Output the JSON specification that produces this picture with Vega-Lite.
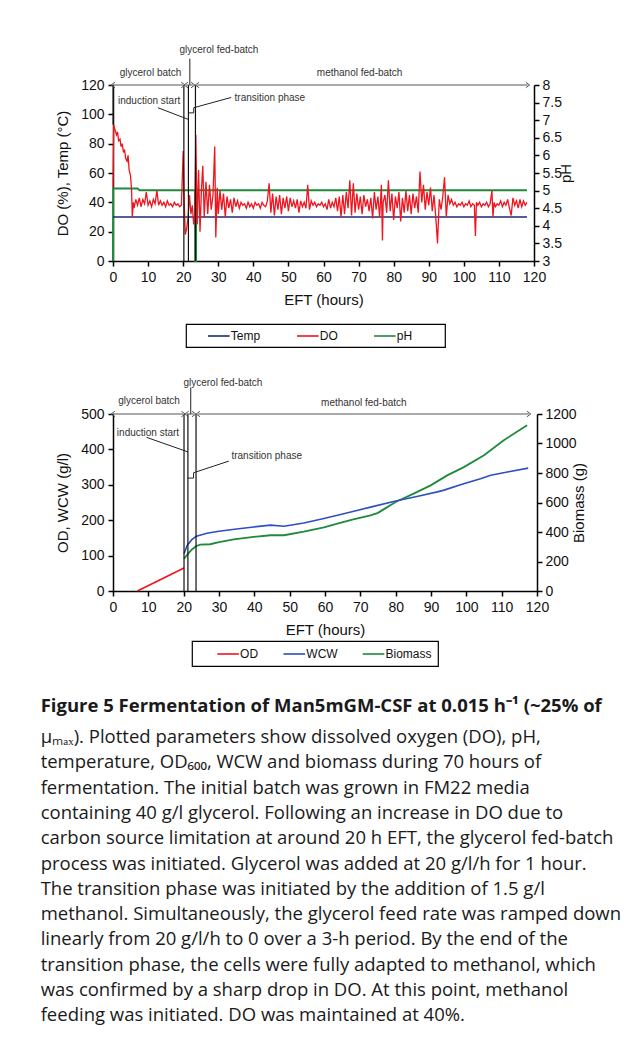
{
"$schema": "https://vega.github.io/schema/vega-lite/v6.json",
"padding": {"left": 40, "top": 45, "right": 5, "bottom": 8},
"background": "white",
"spacing": 29,
"resolve": {"scale": {"color": "independent"}},
"title": {
  "text": "Figure 5 Fermentation of Man5mGM-CSF at 0.015 h⁻¹ (~25% of",
  "subtitle": [
    "μₘₐₓ). Plotted parameters show dissolved oxygen (DO), pH,",
    "temperature, OD₆₀₀, WCW and biomass during 70 hours of",
    "fermentation. The initial batch was grown in FM22 media",
    "containing 40 g/l glycerol. Following an increase in DO due to",
    "carbon source limitation at around 20 h EFT, the glycerol fed-batch",
    "process was initiated. Glycerol was added at 20 g/l/h for 1 hour.",
    "The transition phase was initiated by the addition of 1.5 g/l",
    "methanol. Simultaneously, the glycerol feed rate was ramped down",
    "linearly from 20 g/l/h to 0 over a 3-h period. By the end of the",
    "transition phase, the cells were fully adapted to methanol, which",
    "was confirmed by a sharp drop in DO. At this point, methanol",
    "feeding was initiated. DO was maintained at 40%."
  ],
  "orient": "bottom",
  "anchor": "start",
  "frame": "bounds",
  "offset": 30,
  "dx": -15,
  "font": "Open Sans",
  "fontSize": 18.5,
  "fontWeight": "bold",
  "color": "#1a1a1a",
  "subtitleFont": "Open Sans",
  "subtitleFontSize": 18.5,
  "subtitleFontWeight": "normal",
  "subtitleColor": "#1a1a1a",
  "subtitleLineHeight": 25.3,
  "subtitlePadding": 13
},
"datasets": {
  "top_do": [
    {"t":0,"v":50},{"t":0.2,"v":93},{"t":0.5,"v":90},{"t":1,"v":86},{"t":1.3,"v":88},{"t":1.6,"v":82},{"t":2,"v":83},{"t":2.3,"v":78},{"t":2.6,"v":80},{"t":3,"v":74},{"t":3.3,"v":76},{"t":3.6,"v":70},{"t":4,"v":68},{"t":4.3,"v":72},{"t":4.6,"v":62},{"t":5,"v":58},{"t":5.3,"v":48},{"t":5.5,"v":30},{"t":5.8,"v":40},{"t":6,"v":36},{"t":6.5,"v":42},{"t":7,"v":38},{"t":7.5,"v":43},{"t":8,"v":37},{"t":8.5,"v":42},{"t":9,"v":39},{"t":9.5,"v":47},{"t":10,"v":38},{"t":10.5,"v":41},{"t":11,"v":37},{"t":11.5,"v":42},{"t":12,"v":39},{"t":12.5,"v":48},{"t":13,"v":38},{"t":13.5,"v":41},{"t":14,"v":38},{"t":14.5,"v":40},{"t":15,"v":37},{"t":15.5,"v":41},{"t":16,"v":38},{"t":16.5,"v":39},{"t":17,"v":37},{"t":17.5,"v":40},{"t":18,"v":38},{"t":18.5,"v":39},{"t":19,"v":37},{"t":19.5,"v":38},{"t":20,"v":75},{"t":20.3,"v":40},{"t":20.6,"v":18},{"t":21,"v":22},{"t":21.4,"v":30},{"t":21.8,"v":45},{"t":22.2,"v":32},{"t":22.6,"v":38},{"t":23,"v":25},{"t":23.3,"v":30},{"t":23.6,"v":86},{"t":24,"v":25},{"t":24.4,"v":62},{"t":24.8,"v":20},{"t":25.2,"v":48},{"t":25.6,"v":65},{"t":26,"v":30},{"t":26.5,"v":54},{"t":27,"v":32},{"t":27.5,"v":52},{"t":28,"v":35},{"t":28.5,"v":45},{"t":29,"v":78},{"t":29.3,"v":16},{"t":29.7,"v":50},{"t":30,"v":32},{"t":30.5,"v":48},{"t":31,"v":35},{"t":31.5,"v":46},{"t":32,"v":30},{"t":32.5,"v":44},{"t":33,"v":36},{"t":33.5,"v":42},{"t":34,"v":33},{"t":34.5,"v":43},{"t":35,"v":37},{"t":35.5,"v":41},{"t":36,"v":36},{"t":36.5,"v":40},{"t":37,"v":38},{"t":37.5,"v":39},{"t":38,"v":36},{"t":38.5,"v":40},{"t":39,"v":37},{"t":39.5,"v":39},{"t":40,"v":36},{"t":40.5,"v":40},{"t":41,"v":38},{"t":41.5,"v":39},{"t":42,"v":36},{"t":42.5,"v":40},{"t":43,"v":38},{"t":43.5,"v":37},{"t":44,"v":41},{"t":44.5,"v":53},{"t":45,"v":33},{"t":45.5,"v":46},{"t":46,"v":31},{"t":46.5,"v":44},{"t":47,"v":35},{"t":47.5,"v":45},{"t":48,"v":32},{"t":48.5,"v":43},{"t":49,"v":36},{"t":49.5,"v":44},{"t":50,"v":34},{"t":50.5,"v":43},{"t":51,"v":37},{"t":51.5,"v":41},{"t":52,"v":36},{"t":52.5,"v":42},{"t":53,"v":33},{"t":53.5,"v":41},{"t":54,"v":37},{"t":54.5,"v":40},{"t":55,"v":36},{"t":55.5,"v":52},{"t":56,"v":35},{"t":56.5,"v":41},{"t":57,"v":38},{"t":57.5,"v":40},{"t":58,"v":37},{"t":58.5,"v":39},{"t":59,"v":38},{"t":59.5,"v":40},{"t":60,"v":37},{"t":60.5,"v":39},{"t":61,"v":35},{"t":61.5,"v":42},{"t":62,"v":36},{"t":62.5,"v":40},{"t":63,"v":37},{"t":63.5,"v":43},{"t":64,"v":34},{"t":64.5,"v":44},{"t":65,"v":30},{"t":65.5,"v":45},{"t":66,"v":32},{"t":66.5,"v":47},{"t":67,"v":36},{"t":67.5,"v":55},{"t":68,"v":31},{"t":68.5,"v":53},{"t":69,"v":33},{"t":69.5,"v":46},{"t":70,"v":35},{"t":70.5,"v":44},{"t":71,"v":32},{"t":71.5,"v":45},{"t":72,"v":37},{"t":72.5,"v":42},{"t":73,"v":34},{"t":73.5,"v":43},{"t":74,"v":29},{"t":74.5,"v":47},{"t":75,"v":35},{"t":75.5,"v":44},{"t":76,"v":30},{"t":76.5,"v":52},{"t":76.8,"v":14},{"t":77,"v":40},{"t":77.5,"v":45},{"t":78,"v":33},{"t":78.5,"v":55},{"t":79,"v":34},{"t":79.5,"v":46},{"t":80,"v":28},{"t":80.5,"v":44},{"t":81,"v":36},{"t":81.5,"v":47},{"t":82,"v":27},{"t":82.5,"v":43},{"t":83,"v":33},{"t":83.5,"v":48},{"t":84,"v":34},{"t":84.5,"v":45},{"t":85,"v":32},{"t":85.5,"v":46},{"t":86,"v":36},{"t":86.5,"v":44},{"t":87,"v":33},{"t":87.5,"v":61},{"t":88,"v":40},{"t":88.5,"v":52},{"t":89,"v":35},{"t":89.5,"v":47},{"t":90,"v":38},{"t":90.5,"v":50},{"t":91,"v":34},{"t":91.5,"v":45},{"t":92,"v":30},{"t":92.5,"v":12},{"t":93,"v":42},{"t":93.5,"v":35},{"t":94,"v":44},{"t":94.5,"v":57},{"t":95,"v":30},{"t":95.5,"v":45},{"t":96,"v":39},{"t":96.5,"v":42},{"t":97,"v":38},{"t":97.5,"v":40},{"t":98,"v":37},{"t":98.5,"v":39},{"t":99,"v":38},{"t":99.5,"v":40},{"t":100,"v":37},{"t":100.5,"v":39},{"t":101,"v":38},{"t":101.5,"v":41},{"t":102,"v":37},{"t":102.5,"v":39},{"t":103,"v":38},{"t":103.3,"v":17},{"t":103.6,"v":40},{"t":104,"v":38},{"t":104.5,"v":40},{"t":105,"v":37},{"t":105.5,"v":39},{"t":106,"v":38},{"t":106.5,"v":40},{"t":107,"v":37},{"t":107.5,"v":39},{"t":108,"v":48},{"t":108.3,"v":30},{"t":108.6,"v":40},{"t":109,"v":37},{"t":109.5,"v":39},{"t":110,"v":38},{"t":110.5,"v":41},{"t":111,"v":37},{"t":111.5,"v":40},{"t":112,"v":38},{"t":112.5,"v":42},{"t":113,"v":36},{"t":113.5,"v":31},{"t":114,"v":43},{"t":114.5,"v":38},{"t":115,"v":41},{"t":115.5,"v":36},{"t":116,"v":42},{"t":116.5,"v":37},{"t":117,"v":41},{"t":117.5,"v":38},{"t":118,"v":40}
  ],
  "top_temp": [{"t":0,"v":30},{"t":118,"v":30}],
  "top_ph": [{"t":0,"v":3},{"t":0.05,"v":5.06},{"t":7,"v":5.06},{"t":7.6,"v":5.01},{"t":23.4,"v":5.01},{"t":23.45,"v":3},{"t":23.65,"v":3},{"t":23.7,"v":5.01},{"t":118,"v":5.01}],
  "top_vlines": [{"t":20.2},{"t":21.5},{"t":23.5}],
  "top_arrows": [{"t":0,"t2":20},{"t":20.8,"t2":22.8},{"t":24,"t2":118.2}],
  "top_segs": [
    {"t":0,"v":93,"t2":0,"v2":120},
    {"t":21.9,"v":120,"t2":21.9,"v2":138},
    {"t":12.8,"v":104.5,"t2":21.4,"v2":96.6},
    {"t":33.7,"v":111.5,"t2":23.0,"v2":104.5},
    {"t":23.0,"v":104.5,"t2":23.0,"v2":101},
    {"t":23.0,"v":101,"t2":21.5,"v2":101}
  ],
  "top_labels": [
    {"label":"glycerol batch","t":10.7,"v":128},
    {"label":"glycerol fed-batch","t":30.2,"v":143.7},
    {"label":"methanol fed-batch","t":70.3,"v":128},
    {"label":"induction start","t":10.3,"v":109.1},
    {"label":"transition phase","t":44.7,"v":111.4}
  ],
  "bot_od": [{"t":6.9,"v":0},{"t":20.1,"v":65}],
  "bot_wcw": [{"t":20.1,"v":105},{"t":21,"v":129},{"t":22.3,"v":145},{"t":23.6,"v":155},{"t":26.6,"v":163},{"t":30,"v":169},{"t":35,"v":175},{"t":39.8,"v":181},{"t":44.6,"v":186},{"t":48.4,"v":183},{"t":54,"v":192},{"t":59.7,"v":205},{"t":65.3,"v":218},{"t":72.9,"v":237},{"t":80,"v":254},{"t":86,"v":267},{"t":91.8,"v":280},{"t":93.7,"v":285},{"t":99,"v":302},{"t":104,"v":317},{"t":106.9,"v":327},{"t":112,"v":337},{"t":117.5,"v":347}],
  "bot_bio": [{"t":20.1,"v":219},{"t":21.2,"v":252},{"t":22.5,"v":285},{"t":23.6,"v":305},{"t":24.7,"v":315},{"t":27.5,"v":317},{"t":30,"v":332},{"t":34.2,"v":350},{"t":39.8,"v":367},{"t":44.6,"v":378},{"t":48.4,"v":378},{"t":54,"v":403},{"t":59.7,"v":432},{"t":63.5,"v":456},{"t":68,"v":485},{"t":72.9,"v":513},{"t":75,"v":530},{"t":76.7,"v":555},{"t":80,"v":603},{"t":85.1,"v":660},{"t":89.9,"v":716},{"t":94.6,"v":784},{"t":99.3,"v":840},{"t":105,"v":920},{"t":110.6,"v":1022},{"t":117.2,"v":1124}],
  "bot_vlines": [{"t":20.1},{"t":21.2},{"t":23.5}],
  "bot_arrows": [{"t":0,"t2":19.9},{"t":20.9,"t2":22.9},{"t":24.1,"t2":117.7}],
  "bot_segs": [
    {"t":22.0,"v":500,"t2":22.0,"v2":575},
    {"t":9.5,"v":434,"t2":21.2,"v2":393},
    {"t":32.8,"v":367,"t2":22.8,"v2":334},
    {"t":22.8,"v":334,"t2":22.8,"v2":319},
    {"t":22.8,"v":319,"t2":21.2,"v2":319}
  ],
  "bot_labels": [
    {"label":"glycerol batch","t":10.2,"v":537},
    {"label":"glycerol fed-batch","t":31.1,"v":588},
    {"label":"methanol fed-batch","t":71,"v":531},
    {"label":"induction start","t":9.9,"v":447},
    {"label":"transition phase","t":43.5,"v":381}
  ]
},
"vconcat": [
  {
    "width": 421,
    "height": 176,
    "layer": [
      {
        "data": {"name": "top_ph"},
        "mark": {"type": "line", "strokeWidth": 2},
        "encoding": {
          "x": {"field": "t", "type": "quantitative", "scale": {"domain": [0, 120], "nice": false},
                "axis": {"title": "EFT (hours)", "values": [0,10,20,30,40,50,60,70,80,90,100,110,120], "labelPadding": 4, "titlePadding": 8}},
          "y": {"field": "v", "type": "quantitative", "scale": {"domain": [3, 8], "nice": false},
                "axis": {"orient": "right", "title": "pH", "values": [3,3.5,4,4.5,5,5.5,6,6.5,7,7.5,8], "format": "~g", "titleAngle": 270, "titlePadding": 12, "labelPadding": 3}},
          "color": {"datum": "pH", "type": "nominal",
                    "scale": {"domain": ["Temp", "DO", "pH"], "range": ["#1f2a6e", "#f0141e", "#1e8a3c"]},
                    "legend": {"orient": "none", "legendX": 73, "legendY": 239, "direction": "horizontal", "title": null, "symbolOffset": 20.8, "columnPadding": 19,
                               "labelExpr": "datum.label == 'pH' ? 'pH\u2800\u2800\u2800' : datum.label"}}
        }
      },
      {
        "layer": [
          {
            "data": {"name": "top_temp"},
            "mark": {"type": "line", "strokeWidth": 1.6},
            "encoding": {
              "x": {"field": "t", "type": "quantitative", "scale": {"domain": [0, 120], "nice": false},
                    "axis": {"title": "EFT (hours)", "values": [0,10,20,30,40,50,60,70,80,90,100,110,120], "labelPadding": 4, "titlePadding": 8}},
              "y": {"field": "v", "type": "quantitative", "scale": {"domain": [0, 120], "nice": false},
                    "axis": {"orient": "left", "title": "DO (%), Temp (°C)", "values": [0,20,40,60,80,100,120], "labelPadding": 4, "titlePadding": 10}},
              "color": {"datum": "Temp", "type": "nominal"}
            }
          },
          {
            "data": {"name": "top_do"},
            "mark": {"type": "line", "strokeWidth": 1.3},
            "encoding": {
              "x": {"field": "t", "type": "quantitative", "scale": {"domain": [0, 120], "nice": false},
                    "axis": {"title": "EFT (hours)", "values": [0,10,20,30,40,50,60,70,80,90,100,110,120], "labelPadding": 4, "titlePadding": 8}},
              "y": {"field": "v", "type": "quantitative", "scale": {"domain": [0, 120], "nice": false},
                    "axis": {"orient": "left", "title": "DO (%), Temp (°C)", "values": [0,20,40,60,80,100,120], "labelPadding": 4, "titlePadding": 10}},
              "color": {"datum": "DO", "type": "nominal"}
            }
          },
          {
            "data": {"name": "top_vlines"},
            "mark": {"type": "rule", "color": "#111", "strokeWidth": 1.2},
            "encoding": {
              "x": {"field": "t", "type": "quantitative", "scale": {"domain": [0, 120], "nice": false},
                    "axis": {"title": "EFT (hours)", "values": [0,10,20,30,40,50,60,70,80,90,100,110,120], "labelPadding": 4, "titlePadding": 8}},
              "y": {"datum": 0, "type": "quantitative", "scale": {"domain": [0, 120], "nice": false},
                    "axis": {"orient": "left", "title": "DO (%), Temp (°C)", "values": [0,20,40,60,80,100,120], "labelPadding": 4, "titlePadding": 10}},
              "y2": {"datum": 120}
            }
          },
          {
            "data": {"name": "top_segs"},
            "mark": {"type": "rule", "color": "#222", "strokeWidth": 1},
            "encoding": {
              "x": {"field": "t", "type": "quantitative", "scale": {"domain": [0, 120], "nice": false},
                    "axis": {"title": "EFT (hours)", "values": [0,10,20,30,40,50,60,70,80,90,100,110,120], "labelPadding": 4, "titlePadding": 8}},
              "y": {"field": "v", "type": "quantitative", "scale": {"domain": [0, 120], "nice": false},
                    "axis": {"orient": "left", "title": "DO (%), Temp (°C)", "values": [0,20,40,60,80,100,120], "labelPadding": 4, "titlePadding": 10}},
              "x2": {"field": "t2"},
              "y2": {"field": "v2"}
            }
          },
          {
            "data": {"name": "top_arrows"},
            "mark": {"type": "rule", "color": "#555", "strokeWidth": 1},
            "encoding": {
              "x": {"field": "t", "type": "quantitative", "scale": {"domain": [0, 120], "nice": false},
                    "axis": {"title": "EFT (hours)", "values": [0,10,20,30,40,50,60,70,80,90,100,110,120], "labelPadding": 4, "titlePadding": 8}},
              "x2": {"field": "t2"},
              "y": {"datum": 120, "type": "quantitative", "scale": {"domain": [0, 120], "nice": false},
                    "axis": {"orient": "left", "title": "DO (%), Temp (°C)", "values": [0,20,40,60,80,100,120], "labelPadding": 4, "titlePadding": 10}}
            }
          },
          {
            "data": {"name": "top_arrows"},
            "mark": {"type": "point", "shape": "M0.7,-1L-0.7,0L0.7,1", "size": 30, "filled": false, "stroke": "#555", "strokeWidth": 1, "opacity": 1},
            "encoding": {
              "x": {"field": "t", "type": "quantitative", "scale": {"domain": [0, 120], "nice": false},
                    "axis": {"title": "EFT (hours)", "values": [0,10,20,30,40,50,60,70,80,90,100,110,120], "labelPadding": 4, "titlePadding": 8}},
              "y": {"datum": 120, "type": "quantitative", "scale": {"domain": [0, 120], "nice": false},
                    "axis": {"orient": "left", "title": "DO (%), Temp (°C)", "values": [0,20,40,60,80,100,120], "labelPadding": 4, "titlePadding": 10}}
            }
          },
          {
            "data": {"name": "top_arrows"},
            "mark": {"type": "point", "shape": "M-0.7,-1L0.7,0L-0.7,1", "size": 30, "filled": false, "stroke": "#555", "strokeWidth": 1, "opacity": 1},
            "encoding": {
              "x": {"field": "t2", "type": "quantitative", "scale": {"domain": [0, 120], "nice": false},
                    "axis": {"title": "EFT (hours)", "values": [0,10,20,30,40,50,60,70,80,90,100,110,120], "labelPadding": 4, "titlePadding": 8}},
              "y": {"datum": 120, "type": "quantitative", "scale": {"domain": [0, 120], "nice": false},
                    "axis": {"orient": "left", "title": "DO (%), Temp (°C)", "values": [0,20,40,60,80,100,120], "labelPadding": 4, "titlePadding": 10}}
            }
          },
          {
            "data": {"name": "top_labels"},
            "mark": {"type": "text", "fontSize": 10, "color": "#333", "font": "Liberation Sans"},
            "encoding": {
              "x": {"field": "t", "type": "quantitative", "scale": {"domain": [0, 120], "nice": false},
                    "axis": {"title": "EFT (hours)", "values": [0,10,20,30,40,50,60,70,80,90,100,110,120], "labelPadding": 4, "titlePadding": 8}},
              "y": {"field": "v", "type": "quantitative", "scale": {"domain": [0, 120], "nice": false},
                    "axis": {"orient": "left", "title": "DO (%), Temp (°C)", "values": [0,20,40,60,80,100,120], "labelPadding": 4, "titlePadding": 10}},
              "text": {"field": "label"}
            }
          }
        ]
      }
    ],
    "resolve": {"scale": {"y": "independent"}}
  },
  {
    "width": 424,
    "height": 177,
    "layer": [
      {
        "data": {"name": "bot_bio"},
        "mark": {"type": "line", "strokeWidth": 1.8},
        "encoding": {
          "x": {"field": "t", "type": "quantitative", "scale": {"domain": [0, 120], "nice": false},
                "axis": {"title": "EFT (hours)", "values": [0,10,20,30,40,50,60,70,80,90,100,110,120], "labelPadding": 4, "titlePadding": 8}},
          "y": {"field": "v", "type": "quantitative", "scale": {"domain": [0, 1200], "nice": false},
                "axis": {"orient": "right", "title": "Biomass (g)", "values": [0,200,400,600,800,1000,1200], "format": "d", "titleAngle": 270, "titlePadding": 10, "labelPadding": 3}},
          "color": {"datum": "Biomass", "type": "nominal",
                    "scale": {"domain": ["OD", "WCW", "Biomass"], "range": ["#f0141e", "#2f4fbf", "#1e8a3c"]},
                    "legend": {"orient": "none", "legendX": 79, "legendY": 227, "direction": "horizontal", "title": null, "symbolOffset": 23.1, "columnPadding": 5.2, "padding": 6,
                               "labelExpr": "datum.label == 'Biomass' ? 'Biomass\u2003\u2005' : datum.label"}}
        }
      },
      {
        "layer": [
          {
            "data": {"name": "bot_wcw"},
            "mark": {"type": "line", "strokeWidth": 1.6},
            "encoding": {
              "x": {"field": "t", "type": "quantitative", "scale": {"domain": [0, 120], "nice": false},
                    "axis": {"title": "EFT (hours)", "values": [0,10,20,30,40,50,60,70,80,90,100,110,120], "labelPadding": 4, "titlePadding": 8}},
              "y": {"field": "v", "type": "quantitative", "scale": {"domain": [0, 500], "nice": false},
                    "axis": {"orient": "left", "title": "OD, WCW (g/l)", "values": [0,100,200,300,400,500], "labelPadding": 4, "titlePadding": 10}},
              "color": {"datum": "WCW", "type": "nominal"}
            }
          },
          {
            "data": {"name": "bot_od"},
            "mark": {"type": "line", "strokeWidth": 1.6},
            "encoding": {
              "x": {"field": "t", "type": "quantitative", "scale": {"domain": [0, 120], "nice": false},
                    "axis": {"title": "EFT (hours)", "values": [0,10,20,30,40,50,60,70,80,90,100,110,120], "labelPadding": 4, "titlePadding": 8}},
              "y": {"field": "v", "type": "quantitative", "scale": {"domain": [0, 500], "nice": false},
                    "axis": {"orient": "left", "title": "OD, WCW (g/l)", "values": [0,100,200,300,400,500], "labelPadding": 4, "titlePadding": 10}},
              "color": {"datum": "OD", "type": "nominal"}
            }
          },
          {
            "data": {"name": "bot_vlines"},
            "mark": {"type": "rule", "color": "#111", "strokeWidth": 1.2},
            "encoding": {
              "x": {"field": "t", "type": "quantitative", "scale": {"domain": [0, 120], "nice": false},
                    "axis": {"title": "EFT (hours)", "values": [0,10,20,30,40,50,60,70,80,90,100,110,120], "labelPadding": 4, "titlePadding": 8}},
              "y": {"datum": 0, "type": "quantitative", "scale": {"domain": [0, 500], "nice": false},
                    "axis": {"orient": "left", "title": "OD, WCW (g/l)", "values": [0,100,200,300,400,500], "labelPadding": 4, "titlePadding": 10}},
              "y2": {"datum": 500}
            }
          },
          {
            "data": {"name": "bot_segs"},
            "mark": {"type": "rule", "color": "#222", "strokeWidth": 1},
            "encoding": {
              "x": {"field": "t", "type": "quantitative", "scale": {"domain": [0, 120], "nice": false},
                    "axis": {"title": "EFT (hours)", "values": [0,10,20,30,40,50,60,70,80,90,100,110,120], "labelPadding": 4, "titlePadding": 8}},
              "y": {"field": "v", "type": "quantitative", "scale": {"domain": [0, 500], "nice": false},
                    "axis": {"orient": "left", "title": "OD, WCW (g/l)", "values": [0,100,200,300,400,500], "labelPadding": 4, "titlePadding": 10}},
              "x2": {"field": "t2"},
              "y2": {"field": "v2"}
            }
          },
          {
            "data": {"name": "bot_arrows"},
            "mark": {"type": "rule", "color": "#555", "strokeWidth": 1},
            "encoding": {
              "x": {"field": "t", "type": "quantitative", "scale": {"domain": [0, 120], "nice": false},
                    "axis": {"title": "EFT (hours)", "values": [0,10,20,30,40,50,60,70,80,90,100,110,120], "labelPadding": 4, "titlePadding": 8}},
              "x2": {"field": "t2"},
              "y": {"datum": 500, "type": "quantitative", "scale": {"domain": [0, 500], "nice": false},
                    "axis": {"orient": "left", "title": "OD, WCW (g/l)", "values": [0,100,200,300,400,500], "labelPadding": 4, "titlePadding": 10}}
            }
          },
          {
            "data": {"name": "bot_arrows"},
            "mark": {"type": "point", "shape": "M0.7,-1L-0.7,0L0.7,1", "size": 30, "filled": false, "stroke": "#555", "strokeWidth": 1, "opacity": 1},
            "encoding": {
              "x": {"field": "t", "type": "quantitative", "scale": {"domain": [0, 120], "nice": false},
                    "axis": {"title": "EFT (hours)", "values": [0,10,20,30,40,50,60,70,80,90,100,110,120], "labelPadding": 4, "titlePadding": 8}},
              "y": {"datum": 500, "type": "quantitative", "scale": {"domain": [0, 500], "nice": false},
                    "axis": {"orient": "left", "title": "OD, WCW (g/l)", "values": [0,100,200,300,400,500], "labelPadding": 4, "titlePadding": 10}}
            }
          },
          {
            "data": {"name": "bot_arrows"},
            "mark": {"type": "point", "shape": "M-0.7,-1L0.7,0L-0.7,1", "size": 30, "filled": false, "stroke": "#555", "strokeWidth": 1, "opacity": 1},
            "encoding": {
              "x": {"field": "t2", "type": "quantitative", "scale": {"domain": [0, 120], "nice": false},
                    "axis": {"title": "EFT (hours)", "values": [0,10,20,30,40,50,60,70,80,90,100,110,120], "labelPadding": 4, "titlePadding": 8}},
              "y": {"datum": 500, "type": "quantitative", "scale": {"domain": [0, 500], "nice": false},
                    "axis": {"orient": "left", "title": "OD, WCW (g/l)", "values": [0,100,200,300,400,500], "labelPadding": 4, "titlePadding": 10}}
            }
          },
          {
            "data": {"name": "bot_labels"},
            "mark": {"type": "text", "fontSize": 10, "color": "#333", "font": "Liberation Sans"},
            "encoding": {
              "x": {"field": "t", "type": "quantitative", "scale": {"domain": [0, 120], "nice": false},
                    "axis": {"title": "EFT (hours)", "values": [0,10,20,30,40,50,60,70,80,90,100,110,120], "labelPadding": 4, "titlePadding": 8}},
              "y": {"field": "v", "type": "quantitative", "scale": {"domain": [0, 500], "nice": false},
                    "axis": {"orient": "left", "title": "OD, WCW (g/l)", "values": [0,100,200,300,400,500], "labelPadding": 4, "titlePadding": 10}},
              "text": {"field": "label"}
            }
          }
        ]
      }
    ],
    "resolve": {"scale": {"y": "independent"}}
  }
],
"config": {
  "font": "Liberation Sans",
  "view": {"stroke": null},
  "axis": {
    "grid": false,
    "domainColor": "#000", "domainWidth": 1.5,
    "tickColor": "#000", "tickWidth": 1.5, "tickSize": 5,
    "labelFont": "Liberation Sans", "labelFontSize": 14, "labelColor": "#111",
    "titleFont": "Liberation Sans", "titleFontSize": 15, "titleFontWeight": "normal", "titleColor": "#111",
    "labelFlush": false, "labelOverlap": false
  },
  "legend": {
    "strokeColor": "#000",
    "strokeWidth": 1.2,
    "padding": 5,
    "symbolType": "M-1.8,0L1.8,0",
    "symbolSize": 144,
    "symbolStrokeWidth": 1.6,
    "labelOffset": 5,
    "labelFont": "Liberation Sans",
    "labelFontSize": 12,
    "labelColor": "#111",
    "gridAlign": "each"
  }
}
}
